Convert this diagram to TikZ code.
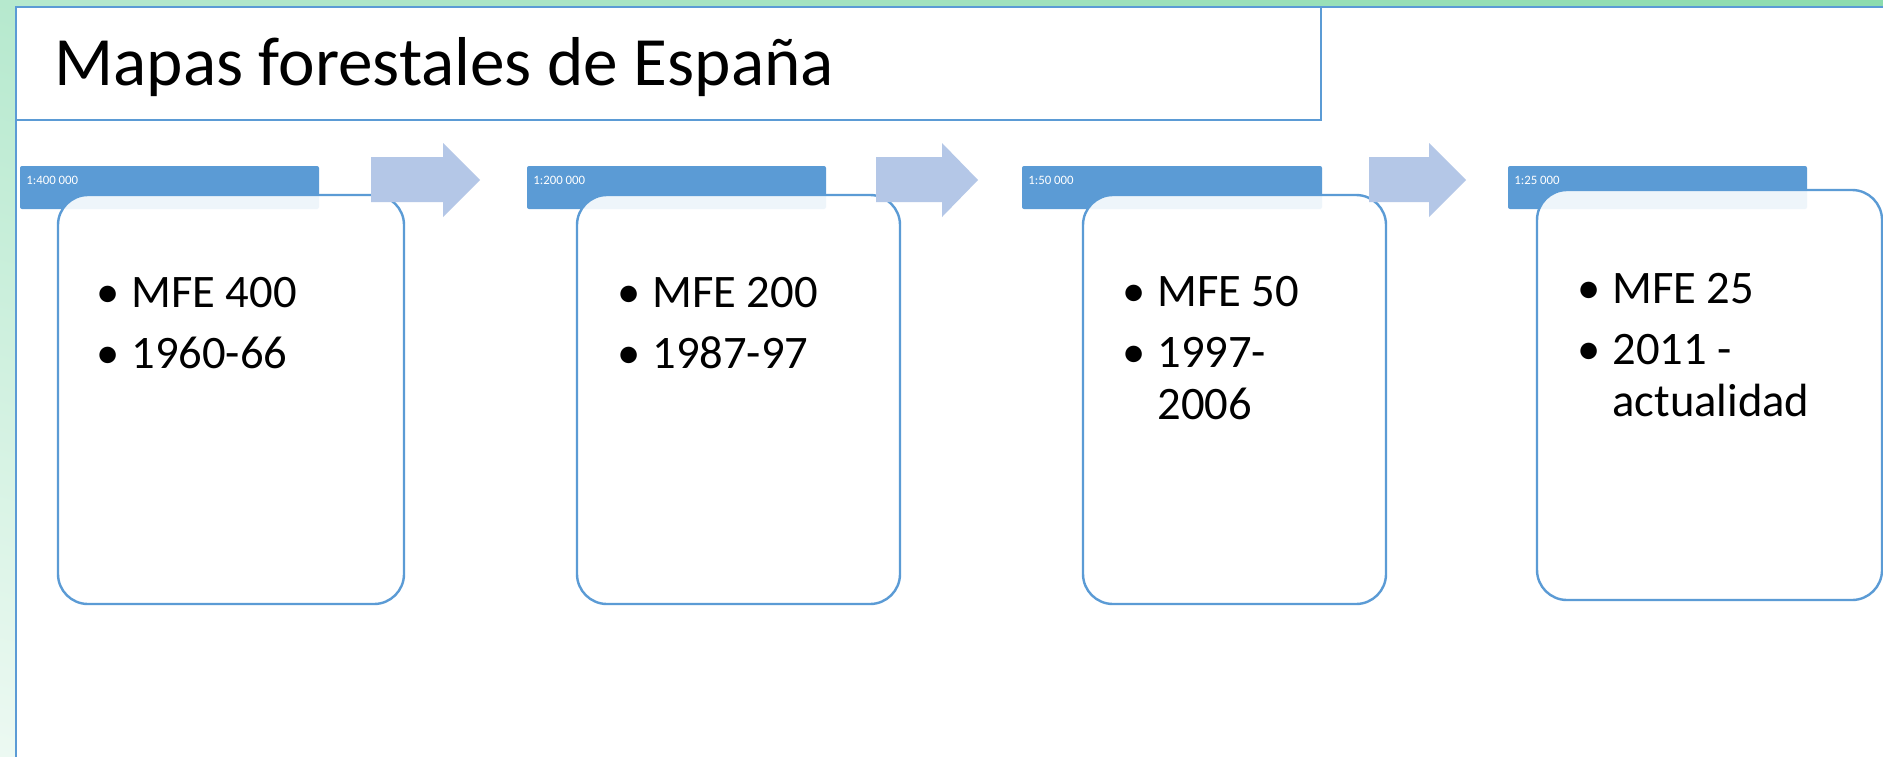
\documentclass[tikz,border=0pt]{standalone}
\usepackage{fontspec}
\setmainfont{Carlito}
\usepackage{tikz}
\usetikzlibrary{calc}
\usetikzlibrary{positioning}
\usetikzlibrary{shadings}
\definecolor{barblue}{HTML}{5B9BD5}
\definecolor{arrowblue}{HTML}{B4C7E7}
\definecolor{greenA}{HTML}{B6E9CE}
\definecolor{greenB}{HTML}{8CDCAE}
\definecolor{greenC}{HTML}{ECF9F2}
\definecolor{greenD}{HTML}{C8EED8}
\tikzset{
	scalebar/.style={fill=barblue,rounded corners=1pt,minimum height=21.5pt,inner sep=0pt},
	mapbox/.style={draw=barblue,line width=1.2pt,fill=white,fill opacity=0.9,rounded corners=15pt,inner sep=0pt,minimum height=204.5pt},
	scalelabel/.style={text=white,font=\fontsize{6.4}{7}\selectfont,anchor=base west,inner sep=0pt},
	maptext/.style={font=\fontsize{23.3}{26}\selectfont,anchor=base west,inner sep=0pt},
	blockarrow/.style={fill=arrowblue}
}
\newcommand{\bul}{\makebox[17.5pt][l]{•}}
\begin{document}
\begin{tikzpicture}[x=0.5pt,y=-0.5pt]
		\useasboundingbox (0,0) rectangle (1883,756);
		% background and frame
		\shade[upper left=greenA,upper right=greenB,lower left=greenC,lower right=greenD] (0,0) rectangle (1883,756);
		\draw[barblue,line width=0.6pt,fill=white] (16,7) rectangle (1900,780);
		\draw[barblue,line width=0.7pt] (16,7) rectangle (1321,120);
		\node[anchor=base west,inner sep=0pt,font=\fontsize{34.6}{40}\selectfont] (title) at (54,85) {Mapas forestales de España};
		% scale bars
		\node[scalebar,minimum width=149.5pt] (bar1) at (169.5,187.5) {};
		\node[scalebar,minimum width=149.5pt] (bar2) at (676.5,187.5) {};
		\node[scalebar,minimum width=150pt] (bar3) at (1172,187.5) {};
		\node[scalebar,minimum width=149.5pt] (bar4) at (1657.5,187.5) {};
		\node[scalelabel] (lab1) at (26,184) {1:400 000};
		\node[scalelabel] (lab2) at (533,184) {1:200 000};
		\node[scalelabel] (lab3) at (1028,184) {1:50 000};
		\node[scalelabel] (lab4) at (1514,184) {1:25 000};
		% boxes
		\node[mapbox,minimum width=173pt] (box1) at (231,399.5) {};
		\node[mapbox,minimum width=161.5pt] (box2) at (738.5,399.5) {};
		\node[mapbox,minimum width=151.5pt] (box3) at (1234.5,399.5) {};
		\node[mapbox,minimum width=172.5pt,minimum height=205pt] (box4) at (1709.5,395) {};
		% arrows
		\fill[blockarrow] (371,157) -- (443,157) -- (443,143) -- (480,180) -- (443,217) -- (443,202) -- (371,202) -- cycle;
		\fill[blockarrow] (876,157) -- (942,157) -- (942,143) -- (978,180) -- (942,217) -- (942,202) -- (876,202) -- cycle;
		\fill[blockarrow] (1369,157) -- (1429,157) -- (1429,143) -- (1466,180) -- (1429,217) -- (1429,202) -- (1369,202) -- cycle;
		% texts
		\node[maptext] (txt1) at (96,307) {\begin{tabular}[t]{@{}l@{}l@{}}\bul & MFE 400\\[4.5pt] \bul & 1960-66\end{tabular}};
		\node[maptext] (txt2) at (617,307) {\begin{tabular}[t]{@{}l@{}l@{}}\bul & MFE 200\\[4.5pt] \bul & 1987-97\end{tabular}};
		\node[maptext] (txt3) at (1122,306) {\begin{tabular}[t]{@{}l@{}l@{}}\bul & MFE 50\\[4.5pt] \bul & 1997-\\ & 2006\end{tabular}};
		\node[maptext] (txt4) at (1577,303) {\begin{tabular}[t]{@{}l@{}l@{}}\bul & MFE 25\\[4.5pt] \bul & 2011 -\\ & actualidad\end{tabular}};
	\end{tikzpicture}
\end{document}
